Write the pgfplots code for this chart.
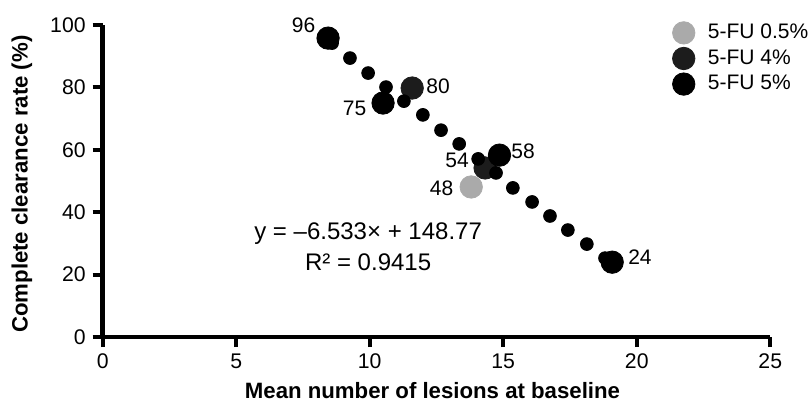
\documentclass[border=0pt]{standalone}
\usepackage{fontspec}
\setmainfont{Liberation Sans}
\usepackage{pgfplots}
\pgfplotsset{compat=1.18}

\definecolor{lightgrey}{HTML}{AAAAAA}
\definecolor{darkgrey}{HTML}{1C1C1C}

\begin{document}
\begin{tikzpicture}
\begin{axis}[
    scale only axis,
    width=333.7pt, height=156pt,
    xmin=0, xmax=25, ymin=0, ymax=100,
    axis lines=left,
    axis line style={line width=2.4pt, -},
    every tick/.style={line width=2pt, black},
    tick align=outside,
    major tick length=5pt,
    xtick={0,5,...,25},
    ytick={0,20,...,100},
    tick label style={font=\fontsize{10.6}{12}\selectfont},
    /pgf/number format/assume math mode=true,
    xlabel={Mean number of lesions at baseline},
    ylabel={Complete clearance rate (\%)},
    label style={font=\fontsize{11.1}{13}\selectfont\bfseries},
    xlabel style={at={(axis description cs:0.494,-0.170)}, anchor=center},
    ylabel style={at={(axis description cs:-0.121,0.49)}, anchor=center},
    clip=false,
    legend cell align=left,
    legend style={at={(axis cs:21.1,103.0)}, anchor=north west, draw=none, fill=none,
        row sep=0pt,
        nodes={font=\fontsize{10.5}{12}\selectfont},
        /tikz/every odd column/.append style={column sep=4.5pt}},
    legend image code/.code={\draw[#1] plot coordinates {(0pt,0pt)};},
]
% big markers per concentration
\addplot[only marks, mark=*, mark size=5.6pt, color=lightgrey] coordinates {(13.80,48.1)};
\addlegendentry{5-FU 0.5\%}
\addplot[only marks, mark=*, mark size=5.6pt, color=darkgrey] coordinates {(11.59,79.8) (14.32,54.2)};
\addlegendentry{5-FU 4\%}
\addplot[only marks, mark=*, mark size=5.6pt, color=black] coordinates {(8.44,95.8) (10.50,75.0) (14.86,58.3) (19.08,24.0)};
\addlegendentry{5-FU 5\%}

% dotted regression line
\addplot[only marks, mark=*, mark size=3.2pt, color=black, forget plot] coordinates {
    (8.59,94.2) (9.26,89.4) (9.94,84.6) (10.61,80.1) (11.28,75.6) (11.99,71.2)
    (12.67,66.3) (13.35,61.9) (14.06,57.1) (14.73,52.6) (15.36,47.8) (16.08,43.3)
    (16.75,38.8) (17.42,34.3) (18.13,29.8) (18.81,25.3)};

% point labels
\begin{scope}[font=\fontsize{10.5}{12}\selectfont]
\node at (axis cs:7.52,99.8) {96};
\node at (axis cs:9.43,73.4) {75};
\node at (axis cs:12.56,80.4) {80};
\node at (axis cs:13.27,56.6) {54};
\node at (axis cs:15.74,59.5) {58};
\node at (axis cs:12.69,47.8) {48};
\node at (axis cs:20.12,25.6) {24};
\end{scope}
\begin{scope}[font=\fontsize{12}{14}\selectfont]
\node at (axis cs:9.94,33.0) {y = –6.533× + 148.77};
\node at (axis cs:9.94,24.0) {R² = 0.9415};
\end{scope}

\coordinate (bbsw) at (axis cs:-3.846,-21.3);
\coordinate (bbne) at (axis cs:26.45,108.01);
\end{axis}
\pgfresetboundingbox
\useasboundingbox (bbsw) rectangle (bbne);
\end{tikzpicture}
\end{document}
